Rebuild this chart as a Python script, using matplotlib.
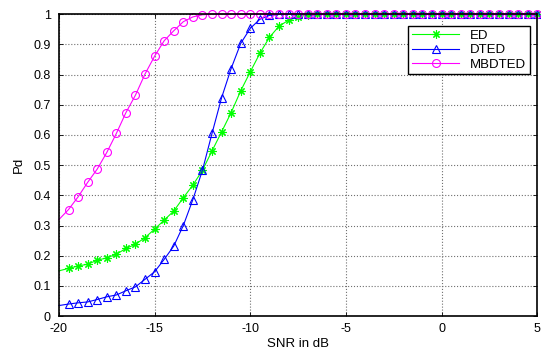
import numpy as np
import matplotlib.pyplot as plt

plt.rcParams['font.family'] = ['Liberation Sans', 'DejaVu Sans']
plt.rcParams['axes.unicode_minus'] = False

snr = np.arange(-20, 5.5, 0.5)

ed = [0.150, 0.158, 0.166, 0.172, 0.185, 0.193, 0.205, 0.224, 0.238, 0.260,
      0.288, 0.318, 0.348, 0.392, 0.434, 0.483, 0.547, 0.610, 0.674, 0.746,
      0.809, 0.870, 0.923, 0.960, 0.980, 0.991, 0.997, 0.999] + [1.0] * 23
dted = [0.035, 0.040, 0.044, 0.047, 0.055, 0.064, 0.070, 0.084, 0.097, 0.122,
        0.147, 0.188, 0.232, 0.300, 0.386, 0.483, 0.605, 0.723, 0.820, 0.903,
        0.953, 0.983, 0.996, 0.999] + [1.0] * 27
mbdted = [0.320, 0.353, 0.395, 0.443, 0.487, 0.542, 0.605, 0.674, 0.732, 0.802,
          0.861, 0.912, 0.945, 0.975, 0.991, 0.998] + [1.0] * 35

fig = plt.figure(figsize=(5.41, 3.54), dpi=100)
ax = fig.add_axes([0.109, 0.107, 0.884, 0.853])

mk = (1, 1)
ax.plot(snr, ed, '-', marker=(8, 2, 0), color='#00ff00', lw=0.8, ms=6,
        mew=0.8, markevery=mk, clip_on=False, label='ED')
ax.plot(snr, dted, '-^', color='#0000ff', lw=0.8, ms=6, mfc='none',
        mew=0.8, markevery=mk, clip_on=False, label='DTED')
ax.plot(snr, mbdted, '-o', color='#ff00ff', lw=0.8, ms=5.7, mfc='none',
        mew=0.8, markevery=mk, clip_on=False, label='MBDTED')

ax.set_xlim(-20, 5)
ax.set_ylim(0, 1)
ax.set_xticks(np.arange(-20, 6, 5))
ax.set_yticks(np.arange(0, 1.01, 0.1))
ax.set_yticklabels(['0', '0.1', '0.2', '0.3', '0.4', '0.5', '0.6', '0.7',
                    '0.8', '0.9', '1'])
ax.tick_params(direction='in', top=True, right=True, labelsize=9,
               length=3, width=0.6)
ax.tick_params(axis='x', pad=5)
ax.tick_params(axis='y', pad=6)
ax.grid(True, color='#707070', linestyle=':', linewidth=0.8)
for s in ax.spines.values():
    s.set_linewidth(1.2)
ax.set_xlabel('SNR in dB', fontsize=9.5, labelpad=2)
ax.set_ylabel('Pd', fontsize=9.5, labelpad=6)

leg = ax.legend(loc='upper right', bbox_to_anchor=(0.999, 0.983), fontsize=9.5,
                fancybox=False, edgecolor='black', framealpha=1,
                handlelength=3.6, borderpad=0.3, labelspacing=0.15)
leg.get_frame().set_linewidth(1.0)

fig.savefig('out.png', dpi=100)
